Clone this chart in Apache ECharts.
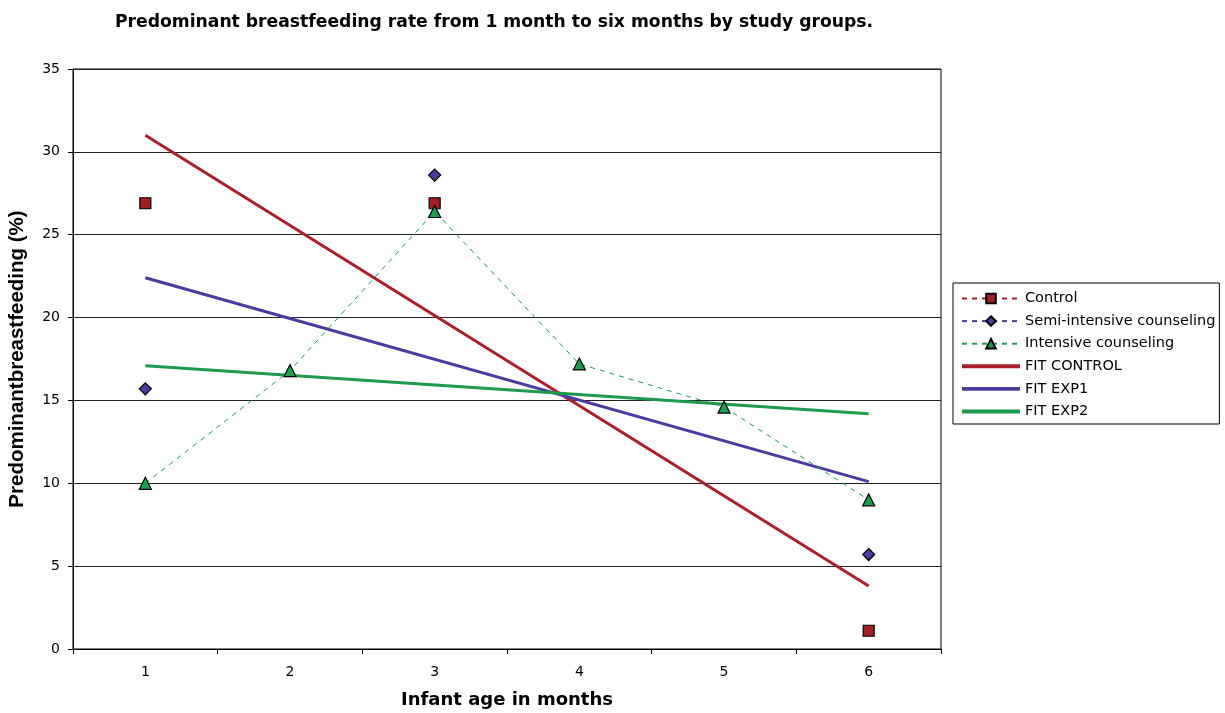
<!DOCTYPE html>
<html>
<head>
<meta charset="utf-8">
<script src="https://cdn.jsdelivr.net/npm/echarts@6/dist/echarts.min.js"></script>
<style>
  html, body { margin: 0; padding: 0; background: #fff; }
  #chart { width: 1225px; height: 713px; }
</style>
</head>
<body>
<div id="chart"></div>
<script>
// Infant age in months (category axis)
const months = ['1', '2', '3', '4', '5', '6'];

// Observed predominant breastfeeding rates (%) by group; null = not measured
const control        = [26.9, null, 26.9, null, null, 1.1];
const semiIntensive  = [15.7, null, 28.6, null, null, 5.7];
const intensive      = [10.0, 16.8, 26.4, 17.2, 14.6, 9.0];

// Linear trend lines, endpoints at month 1 and month 6
const fitControl = [31.0, null, null, null, null, 3.8];
const fitExp1    = [22.4, null, null, null, null, 10.1];
const fitExp2    = [17.1, null, null, null, null, 14.2];

const WIDE = '"DejaVu Sans", "Liberation Sans", Arial, sans-serif';
const ARIAL = '"Liberation Sans", Arial, sans-serif';
const BAR_ICON = 'path://M0,0H60V4H0Z';

const chart = echarts.init(document.getElementById('chart'), null, { renderer: 'canvas' });

const scatterLine = (name, data, color, symbol, size) => ({
  name, type: 'line', data,
  connectNulls: false,
  symbol, symbolSize: size, showAllSymbol: true,
  itemStyle: { color, borderColor: '#000', borderWidth: 1.2 },
  lineStyle: { color, width: 1, type: [5, 5] },
  z: 5
});

const fitLine = (name, data, color) => ({
  name, type: 'line', data,
  connectNulls: true,
  symbol: 'none',
  lineStyle: { color, width: 3 },
  itemStyle: { color },
  z: 3
});

chart.setOption({
  animation: false,
  backgroundColor: '#fff',
  title: {
    text: 'Predominant breastfeeding rate from 1 month to six months by study groups.',
    left: 489, top: 9, textAlign: 'center',
    textStyle: { fontFamily: WIDE, fontWeight: 'bold', fontSize: 17.2, color: '#000' }
  },
  grid: {
    left: 73, right: 284, top: 69, bottom: 64,
    outerBoundsMode: 'none',
    containLabel: false,
    show: true, borderColor: '#000', borderWidth: 1, backgroundColor: '#fff'
  },
  legend: {
    orient: 'vertical',
    left: 953, top: 283,
    padding: [8, 4, 5, 8],
    itemGap: 7.6,
    itemWidth: 58, itemHeight: 12,
    symbolKeepAspect: true,
    borderColor: '#000', borderWidth: 1,
    textStyle: { fontFamily: WIDE, fontSize: 14.5, color: '#000' },
    data: [
      'Control', 'Semi-intensive counseling', 'Intensive counseling',
      { name: 'FIT CONTROL', icon: BAR_ICON },
      { name: 'FIT EXP1', icon: BAR_ICON },
      { name: 'FIT EXP2', icon: BAR_ICON }
    ]
  },
  xAxis: {
    type: 'category',
    data: months,
    boundaryGap: true,
    name: 'Infant age in months',
    nameLocation: 'middle',
    nameGap: 42,
    nameTextStyle: { fontFamily: WIDE, fontWeight: 'bold', fontSize: 18, color: '#000' },
    axisLine: { lineStyle: { color: '#000', width: 1 } },
    axisTick: { show: true, inside: false, length: 5, interval: 0, lineStyle: { color: '#000' } },
    axisLabel: { fontFamily: WIDE, fontSize: 14, color: '#000', margin: 16 },
    splitLine: { show: false }
  },
  yAxis: {
    type: 'value',
    min: 0, max: 35, interval: 5,
    name: 'Predominantbreastfeeding (%)',
    nameLocation: 'middle',
    nameGap: 45,
    nameRotate: 90,
    nameTextStyle: { fontFamily: ARIAL, fontWeight: 'bold', fontSize: 20.5, color: '#000' },
    axisLine: { show: true, lineStyle: { color: '#000', width: 1 } },
    axisTick: { show: true, inside: false, length: 5, lineStyle: { color: '#000' } },
    axisLabel: { fontFamily: WIDE, fontSize: 14, color: '#000', margin: 13 },
    splitLine: { show: true, lineStyle: { color: '#222', width: 1 } }
  },
  series: [
    scatterLine('Control', control, '#A01E24', 'rect', 11),
    scatterLine('Semi-intensive counseling', semiIntensive, '#4A3C9C', 'diamond', 12),
    scatterLine('Intensive counseling', intensive, '#1E9E50', 'triangle', 12),
    fitLine('FIT CONTROL', fitControl, '#A8202A'),
    fitLine('FIT EXP1', fitExp1, '#4B3B9E'),
    fitLine('FIT EXP2', fitExp2, '#1D9A4C')
  ]
});
</script>
</body>
</html>
